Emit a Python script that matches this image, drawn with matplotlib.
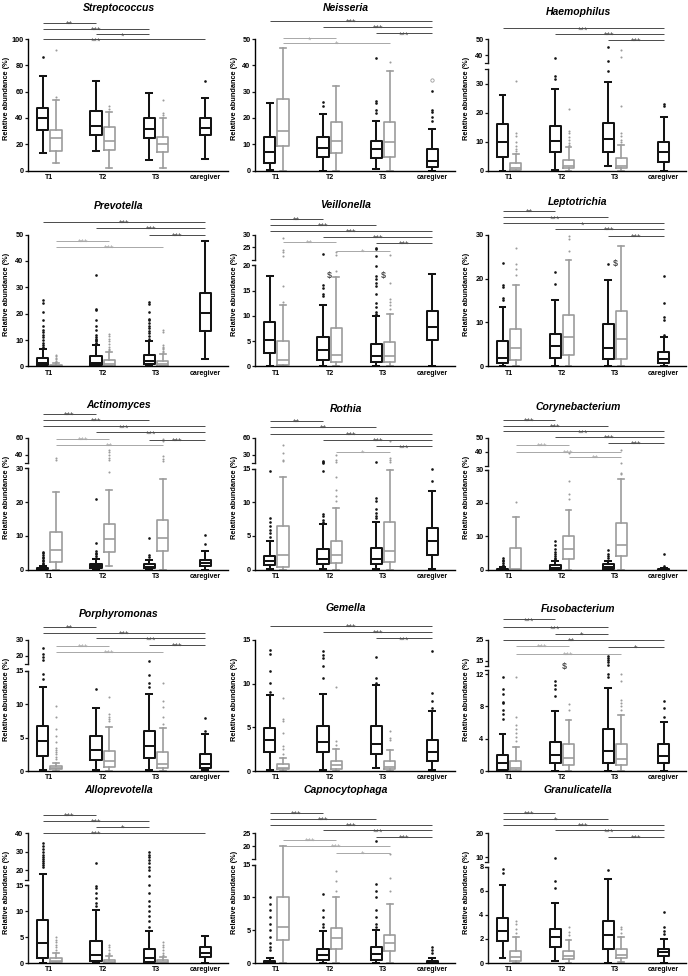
import numpy as np
import matplotlib
matplotlib.use("Agg")
import matplotlib.pyplot as plt
from matplotlib import transforms

plt.rcParams['font.family'] = ['Liberation Sans', 'DejaVu Sans']

# ---------------------------------------------------------------- data
GROUP_LABELS = ['T1', 'T2', 'T3', 'caregiver']
TITLES = ['Streptococcus', 'Neisseria', 'Haemophilus',
          'Prevotella', 'Veillonella', 'Leptotrichia',
          'Actinomyces', 'Rothia', 'Corynebacterium',
          'Porphyromonas', 'Gemella', 'Fusobacterium',
          'Alloprevotella', 'Capnocytophaga', 'Granulicatella']

# box order: T1 black, T1 grey, T2 black, T2 grey, T3 black, T3 grey, caregiver
# each row: whisker low, Q1, median, Q3, whisker high (%)
STREP_BOX = [[13.2, 30.9, 40.3, 47.3, 71.9], [5.6, 15.2, 24.6, 30.9, 53.7],
             [15.2, 27.1, 33.9, 45.6, 68.1], [1.8, 15.7, 22.8, 33.0, 44.8],
             [8.1, 24.6, 31.4, 39.7, 59.2], [1.8, 14.4, 20.3, 25.8, 39.7],
             [9.1, 27.1, 32.2, 39.7, 55.4]]
STREP_OUT = [[86.6], [91.6, 56.2], [], [49.1, 46.8], [], [53.7, 43.5, 42.3], [68.4]]
STREP_SIG = [(0, 2, '**'), (0, 4, '***'), (2, 4, '*'), (0, 6, '***')]

NEIS_BOX = [[0.2, 2.8, 7.2, 12.9, 25.6], [0, 9.5, 15.2, 27.1, 46.7],
            [0, 5.1, 8.5, 12.9, 21.5], [0, 6.6, 11.4, 18.5, 32.2],
            [0.5, 4.7, 8.2, 11.3, 18.9], [0, 5.3, 11.0, 18.5, 38.0],
            [0, 1.5, 3.8, 8.1, 15.6]]
NEIS_OUT = [[], [], [26.0, 24.6], [], [42.7, 26.6, 25.8, 23.0, 22.0], [41.1],
            [30.3, 23.0, 22.3, 20.3, 19.0]]
NEIS_OPEN = [34.4]
NEIS_SIG = [(1, 5, '*'), (1, 3, '*'), (4, 6, '***'), (2, 6, '***'), (0, 6, '***')]

HAEM_BOX = [[0, 4.8, 10.0, 16.1, 26.2], [0, 0.2, 0.8, 2.5, 5.8],
            [0.2, 6.3, 10.3, 15.5, 28.1], [0, 0.8, 1.7, 3.7, 8.0],
            [1.6, 6.5, 10.8, 16.4, 30.6], [0, 0.8, 1.7, 4.3, 8.9],
            [0, 3.1, 6.3, 9.7, 18.5]]
HAEM_OUT = [[], [31.0, 12.9, 11.8, 10.0, 8.3, 7.4, 6.6], [38.3, 32.5, 31.6],
            [21.2, 13.7, 12.9, 11.5, 10.6, 9.5, 8.7], [45.2, 36.5, 34.3],
            [43.1, 39.0, 22.4, 12.9, 11.8, 10.6, 9.7], [23.1, 22.4]]
HAEM_SIG = [(4, 6, '***'), (2, 6, '***'), (0, 6, '***')]

PREV_BOX = [[0, 0.4, 1.3, 3.2, 6.5], [0, 0.05, 0.2, 0.7, 1.5],
            [0, 0.6, 1.5, 3.8, 8.0], [0, 0.3, 1.0, 2.6, 5.5],
            [0, 0.8, 2.2, 4.5, 9.8], [0, 0.2, 0.8, 2.2, 4.8],
            [2.7, 13.3, 20.2, 27.8, 47.7]]
PREV_OUT = [[25.2, 24.0, 20.5, 17.5, 15.5, 14.0, 13.0, 12.0, 11.0, 10.0, 9.0, 8.0, 7.3],
            [4.5, 3.8, 3.2, 2.7, 2.2, 1.8],
            [34.5, 21.8, 21.5, 17.5, 15.5, 14.0, 12.0, 11.0, 10.5, 10.0, 9.5, 9.0, 8.5],
            [12.2, 11.5, 10.5, 9.5, 8.5, 7.5, 6.8, 6.2],
            [24.5, 23.8, 20.5, 18.0, 17.5, 16.5, 15.5, 14.5, 13.5, 12.5, 11.5, 10.5],
            [14.0, 13.0, 8.0, 7.5, 7.0, 6.5, 6.0, 5.5], []]
PREV_SIG = [(1, 5, '***'), (1, 3, '***'), (4, 6, '***'), (2, 6, '***'), (0, 6, '***')]

VEIL_BOX = [[0, 2.6, 5.3, 8.9, 18.0], [0, 0.3, 1.3, 5.0, 12.2],
            [0.1, 1.3, 3.3, 5.8, 12.2], [0, 0.8, 2.3, 7.6, 17.8],
            [0.1, 0.8, 2.1, 4.4, 9.9], [0, 0.8, 2.1, 4.8, 10.3],
            [0, 5.3, 7.8, 10.9, 18.3]]
VEIL_OUT = [[], [28.7, 23.7, 23.0, 21.4, 15.9, 12.7], [22.4, 16.2, 15.5, 14.4, 14.0],
            [23.0, 21.7, 19.0],
            [24.7, 24.1, 21.5, 19.8, 18.0, 17.4, 16.6, 16.0, 14.4, 12.6, 11.7, 10.7, 10.4],
            [22.0, 16.6, 13.4, 12.8, 12.2, 11.4], []]
VEIL_DOLLAR = [(2, 18.0), (4, 18.0)]
VEIL_SIG = [(3, 5, '*'), (1, 3, '**'), (4, 6, '***'), (2, 6, '***'), (0, 6, '***'),
            (0, 4, '***'), (0, 2, '**')]

LEPT_BOX = [[0.15, 0.7, 1.9, 5.9, 13.5], [0, 1.4, 4.2, 8.5, 18.6],
            [0, 1.9, 4.7, 7.4, 15.2], [0, 2.6, 6.8, 11.8, 24.3],
            [0, 1.8, 4.3, 9.7, 19.6], [0, 1.7, 6.2, 12.6, 27.4],
            [0, 0.9, 1.8, 3.4, 6.8]]
LEPT_OUT = [[23.5, 18.6, 18.1, 15.5, 15.0], [27.0, 23.2, 22.1, 20.9], [21.5, 18.7],
            [29.6, 28.9, 26.2], [23.2], [], [20.5, 14.5, 11.2, 10.6, 7.2]]
LEPT_DOLLAR = [(4, 23.4)]
LEPT_SIG = [(4, 6, '***'), (2, 6, '***'), (0, 6, '*'), (0, 4, '***'), (0, 2, '**')]

ACTI_BOX = [[0, 0.05, 0.2, 0.5, 1.0], [0, 2.2, 5.9, 11.2, 23.0],
            [0, 0.3, 1.0, 1.6, 3.0], [1.0, 5.3, 8.9, 13.6, 23.6],
            [0, 0.3, 0.8, 1.6, 2.7], [0, 5.5, 9.3, 14.8, 26.9],
            [0, 1.0, 2.0, 2.8, 5.4]]
ACTI_OUT = [[5.2, 4.8, 4.3, 3.8, 3.3, 2.8, 2.4, 2.0, 1.6, 1.3], [36.0, 34.0],
            [21.0, 7.8, 5.5, 5.0, 4.5, 4.0, 3.5], [46.0, 42.8, 39.2, 36.0, 33.0, 28.8],
            [9.4, 4.2, 3.8], [58.8, 56.0, 38.0, 34.8, 32.8], [10.1, 7.7]]
ACTI_SIG = [(1, 5, '**'), (4, 6, '***'), (1, 3, '***'), (2, 6, '***'), (0, 6, '***'),
            (0, 4, '***'), (0, 2, '***')]

ROTH_BOX = [[0.1, 0.65, 1.2, 2.0, 4.2], [0, 0.3, 2.2, 6.5, 13.7],
            [0.1, 0.8, 1.6, 3.1, 6.7], [0, 1.0, 2.2, 4.3, 9.1],
            [0.1, 0.75, 1.5, 3.2, 7.0], [0, 1.1, 2.7, 7.0, 14.8],
            [0.1, 2.2, 4.2, 6.2, 11.6]]
ROTH_OUT = [[14.6, 7.6, 7.0, 6.5, 5.9, 5.4, 4.9], [48.0, 34.0, 21.0, 18.0],
            [19.2, 16.5, 16.0, 14.6, 8.3, 7.9, 7.4, 7.0],
            [28.8, 19.8, 16.2, 13.7, 11.8, 10.9, 10.1],
            [16.2, 10.6, 10.2, 9.0, 8.4, 8.0, 7.6], [54.0, 24.0, 19.8, 16.8], [15.0, 13.1]]
ROTH_SIG = [(3, 5, '*'), (4, 6, '***'), (2, 6, '***'), (0, 6, '***'), (0, 4, '**'), (0, 2, '**')]

CORY_BOX = [[0, 0, 0.1, 0.3, 0.8], [0, 0, 0.1, 6.5, 15.7],
            [0, 0.2, 0.6, 1.3, 2.5], [0, 3.1, 6.3, 10.0, 18.0],
            [0, 0.3, 0.8, 1.6, 2.6], [0, 4.1, 7.4, 13.9, 27.1],
            [0, 0, 0.05, 0.2, 0.5]]
CORY_OUT = [[3.5, 3.0, 2.5, 2.0, 1.5, 1.2], [20.4], [8.7, 7.5, 6.3, 5.3, 4.6, 4.0, 3.5, 3.1],
            [39.0, 26.6, 22.6, 21.2], [5.8, 4.8, 4.1, 3.6], [41.7, 32.0, 29.1, 28.6], [4.8, 1.0]]
CORY_SIG = [(3, 5, '**'), (1, 5, '***'), (1, 3, '***'), (4, 6, '***'), (2, 6, '***'),
            (0, 6, '***'), (0, 4, '***'), (0, 2, '***')]

PORP_BOX = [[0.1, 2.2, 4.5, 6.7, 12.5], [0, 0.25, 0.4, 0.75, 1.15],
            [0.1, 1.6, 3.1, 5.2, 9.4], [0, 0.65, 1.5, 3.0, 6.6],
            [0.15, 2.0, 3.7, 6.0, 11.5], [0, 0.4, 1.05, 2.9, 6.5],
            [0.15, 0.4, 1.05, 2.5, 5.6]]
PORP_OUT = [[24.8, 21.2, 19.6, 17.5, 14.5, 13.7],
            [9.7, 8.1, 6.3, 5.3, 4.4, 3.5, 3.1, 2.9, 2.5, 2.1, 1.8], [12.3],
            [11.1, 8.5, 8.1, 7.8, 7.5], [16.9, 14.3, 13.2, 12.6], [13.1, 10.4, 9.5, 8.1, 7.0],
            [7.9, 6.0]]
PORP_SIG = [(1, 5, '***'), (1, 3, '***'), (4, 6, '***'), (2, 6, '***'), (0, 6, '***'), (0, 2, '**')]

GEME_BOX = [[0.08, 2.2, 3.6, 4.9, 8.75], [0, 0.19, 0.38, 0.75, 1.5],
            [0.08, 2.2, 3.3, 5.1, 8.8], [0, 0.27, 0.65, 1.2, 2.5],
            [0.35, 1.9, 3.1, 5.1, 9.8], [0, 0.27, 0.5, 1.2, 2.4],
            [0.08, 1.1, 2.15, 3.5, 6.9]]
GEME_OUT = [[13.9, 13.4, 11.4, 10.1, 9.1], [8.4, 6.0, 5.7, 4.4, 2.9, 2.5, 2.0],
            [13.7, 13.3, 12.9, 12.0, 10.6], [9.6, 3.4, 3.0], [13.1, 10.6, 10.1],
            [4.6, 3.8, 3.6], [13.7, 8.9, 8.0, 7.2]]
GEME_SIG = [(4, 6, '***'), (2, 6, '***'), (0, 6, '***')]

FUSO_BOX = [[0, 0.1, 0.95, 2.0, 4.6], [0, 0.08, 0.37, 1.3, 3.0],
            [0, 0.95, 2.0, 3.6, 7.4], [0, 0.8, 1.65, 3.4, 6.3],
            [0, 1.0, 2.5, 5.2, 10.3], [0, 0.75, 1.45, 3.3, 6.9],
            [0, 0.95, 1.9, 3.3, 6.1]]
FUSO_OUT = [[11.6, 10.2, 9.6, 8.6, 8.4, 7.6, 7.1, 6.5], [11.7, 6.7, 5.7, 5.2, 4.7, 4.2, 3.7],
            [11.2, 10.6, 10.2, 9.3], [8.3, 7.5], [17.5, 16.6, 15.5, 14.4, 13.1, 12.0, 11.7],
            [12.0, 11.1, 8.8, 8.4, 8.0, 7.6], [8.7, 7.8, 6.7]]
FUSO_DOLLAR = [(2, 12.6)]
FUSO_SIG = [(1, 5, '***'), (4, 6, '*'), (1, 3, '***'), (0, 6, '**'), (2, 4, '*'),
            (0, 4, '***'), (0, 2, '***')]

ALLO_BOX = [[0, 1.0, 3.8, 8.3, 18.0], [0, 0.1, 0.4, 0.9, 2.0],
            [0, 0.3, 1.5, 4.2, 10.2], [0, 0.05, 0.2, 0.6, 1.3],
            [0, 0.2, 1.0, 2.6, 6.2], [0, 0.05, 0.2, 0.5, 1.2],
            [0, 1.2, 2.0, 3.0, 5.2]]
ALLO_OUT = [[34.5, 33.0, 31.5, 30.0, 28.5, 27.0, 26.0, 25.0, 24.0, 23.0, 22.0],
            [5.0, 4.5, 4.0, 3.5, 3.0, 2.5],
            [23.8, 14.8, 14.5, 13.5, 12.5, 11.5, 11.0],
            [3.5, 3.0, 2.5, 2.0, 1.7],
            [30.0, 28.0, 27.0, 25.5, 24.0, 22.0, 20.0, 17.0, 15.0, 13.5, 12.0, 11.0, 10.0, 9.0, 8.0, 7.0],
            [4.0, 3.5, 3.0, 2.5, 2.0, 1.6], []]
ALLO_SIG = [(0, 6, '***'), (2, 4, '*'), (0, 4, '***'), (0, 2, '***')]

CAPN_BOX = [[0, 0, 0.1, 0.3, 0.8], [0, 3.5, 5.5, 10.0, 20.0],
            [0, 0.5, 1.2, 2.2, 4.8], [0, 2.2, 3.8, 5.3, 10.0],
            [0, 0.5, 1.3, 2.4, 5.0], [0, 1.8, 3.0, 4.2, 9.0],
            [0, 0, 0.1, 0.3, 0.8]]
CAPN_OUT = [[10.0, 9.0, 8.0, 7.0, 6.0, 5.0, 4.0, 3.0, 2.5, 2.0], [],
            [10.5, 8.0, 7.0, 6.0, 5.5], [14.0, 12.5, 11.0],
            [22.0, 12.0, 11.0, 10.0, 8.0, 7.0, 6.0, 5.5], [17.0, 13.0, 11.0],
            [2.5, 2.0, 1.5]]
CAPN_SIG = [(3, 5, '*'), (1, 5, '***'), (1, 3, '***'), (4, 6, '***'), (2, 6, '***'),
            (0, 6, '***'), (0, 4, '***'), (0, 2, '***')]

GRAN_BOX = [[0.4, 1.8, 2.7, 3.7, 6.5], [0, 0.2, 0.5, 1.0, 2.2],
            [0.2, 1.3, 2.2, 2.8, 5.0], [0, 0.3, 0.6, 1.0, 1.9],
            [0, 1.2, 2.3, 3.5, 7.0], [0.1, 0.4, 0.7, 1.2, 2.2],
            [0, 0.6, 0.9, 1.2, 2.0]]
GRAN_OUT = [[7.8, 7.5], [3.5, 3.2, 2.8, 2.5], [9.5, 6.8, 6.2], [3.0, 2.6, 2.3], [7.7],
            [3.0, 2.8, 2.5], [4.2, 3.0, 2.7, 2.4]]
GRAN_SIG = [(4, 6, '***'), (2, 6, '***'), (0, 6, '***'), (0, 4, '*'), (0, 2, '***')]

BOXES = [STREP_BOX, NEIS_BOX, HAEM_BOX, PREV_BOX, VEIL_BOX, LEPT_BOX, ACTI_BOX, ROTH_BOX,
         CORY_BOX, PORP_BOX, GEME_BOX, FUSO_BOX, ALLO_BOX, CAPN_BOX, GRAN_BOX]
OUTS = [STREP_OUT, NEIS_OUT, HAEM_OUT, PREV_OUT, VEIL_OUT, LEPT_OUT, ACTI_OUT, ROTH_OUT,
        CORY_OUT, PORP_OUT, GEME_OUT, FUSO_OUT, ALLO_OUT, CAPN_OUT, GRAN_OUT]
SIGS = [STREP_SIG, NEIS_SIG, HAEM_SIG, PREV_SIG, VEIL_SIG, LEPT_SIG, ACTI_SIG, ROTH_SIG,
        CORY_SIG, PORP_SIG, GEME_SIG, FUSO_SIG, ALLO_SIG, CAPN_SIG, GRAN_SIG]
DOLLARS = {4: VEIL_DOLLAR, 5: LEPT_DOLLAR, 11: FUSO_DOLLAR}

# ---------------------------------------------------------------- layout
# y-axis: (top, ticks, break) with break = (value, gap, compression) or None
YAXES = [
    (100, [0, 20, 40, 60, 80, 100], None),
    (50, [0, 10, 20, 30, 40, 50], None),
    (50, [0, 10, 20, 30, 40, 50], (35, 2.08, 0.554)),
    (50, [0, 10, 20, 30, 40, 50], None),
    (30, [0, 5, 10, 15, 20, 25, 30], (20, 1.13, 0.5)),
    (30, [0, 10, 20, 30], None),
    (60, [0, 10, 20, 30, 40, 60], (30, 1.58, 0.247)),
    (60, [0, 5, 10, 15, 30, 60], (15, 0.8, 0.0829)),
    (50, [0, 10, 20, 30, 40, 50], (30, 1.19, 0.417)),
    (30, [0, 5, 10, 15, 20, 30], (15, 1.0, 0.239)),
    (15, [0, 5, 10, 15], None),
    (25, [0, 4, 8, 12, 15, 25], (12.5, 0.486, 0.26)),
    (40, [0, 5, 10, 15, 20, 30, 40], (15, 1.0, 0.36)),
    (25, [0, 5, 10, 15, 20, 25], (15, 0.8, 0.4)),
    (20, [0, 2, 4, 6, 8, 10, 20], (8, 0.4, 0.2)),
]
SIG_Y = [
    [1.124, 1.078, 1.035, 0.997],
    [0.972, 1.005, 1.043, 1.094, 1.139],
    [0.992, 1.038, 1.081],
    [0.906, 0.954, 0.995, 1.051, 1.096],
    [0.878, 0.942, 0.934, 0.980, 1.030, 1.073, 1.119],
    [0.990, 1.041, 1.084, 1.129, 1.178],
    [0.949, 0.987, 0.995, 1.043, 1.089, 1.139, 1.185],
    [0.894, 0.937, 0.987, 1.033, 1.084, 1.129],
    [0.857, 0.894, 0.950, 0.962, 1.008, 1.050, 1.095, 1.138],
    [0.911, 0.954, 0.962, 1.013, 1.056, 1.102],
    [1.013, 1.063, 1.106],
    [0.893, 0.949, 0.954, 1.0, 1.046, 1.097, 1.158],
    [1.0, 1.046, 1.092, 1.138],
    [0.85, 0.90, 0.95, 0.97, 1.02, 1.065, 1.11, 1.155],
    [0.97, 1.02, 1.065, 1.11, 1.155],
]
# label x overrides for a few brackets: (panel, bracket index) -> x
SIG_TEXT_X = {(0, 3): 4.0, (12, 0): 4.0, (11, 3): 5.2}
DOLLAR_DX = {4: 0.5, 5: 0.55, 11: 0.7}

BOX_POS = [0, 1, 4, 5, 8, 9, 12.2]
LABEL_POS = [0.5, 4.5, 8.5, 12.2]
XLIM = (-1.1, 13.9)

COL_L = [28, 255, 488]
COL_R = [228, 455, 686]
ROW_T = [39, 234.5, 438, 640, 833]
ROW_B = [170.5, 366.5, 569.5, 771, 963]
TITLE_Y = [[8, 8, 12], [206, 205, 202], [405, 409, 407], [614, 608, 609], [790, 790, 790]]

W, H = 688, 976
BLACK = '#141414'
GREY = '#9c9c9c'
SIG_DARK = '#4a4a4a'
SIG_LIGHT = '#a8a8a8'

fig = plt.figure(figsize=(W / 100, H / 100), dpi=100)


def make_scale(b, gap, k):
    def fwd(y):
        y = np.asarray(y, dtype=float)
        return np.where(y <= b, y, b + gap + (y - b) * k)

    def inv(z):
        z = np.asarray(z, dtype=float)
        return np.where(z <= b, z, np.where(z < b + gap, b, b + (z - b - gap) / k))
    return fwd, inv


def draw_boxes(ax, stats, outs, idx, color, lw, ms):
    st = []
    for i in idx:
        lo, q1, med, q3, hi = stats[i]
        st.append(dict(whislo=lo, q1=q1, med=med, q3=q3, whishi=hi, fliers=outs[i]))
    ax.bxp(st, positions=[BOX_POS[i] for i in idx], widths=0.85, capwidths=0.45,
           manage_ticks=False,
           boxprops=dict(color=color, lw=lw), whiskerprops=dict(color=color, lw=lw),
           capprops=dict(color=color, lw=lw), medianprops=dict(color=color, lw=lw),
           flierprops=dict(marker='o', markersize=ms, markerfacecolor=color,
                           markeredgecolor='none', linestyle='none'))


for p in range(15):
    r, c = divmod(p, 3)
    x0, x1 = COL_L[c], COL_R[c]
    y0, y1 = ROW_T[r], ROW_B[r]
    ax = fig.add_axes([x0 / W, 1 - y1 / H, (x1 - x0) / W, (y1 - y0) / H])
    top, ticks, brk = YAXES[p]

    if brk is not None:
        fwd, inv = make_scale(*brk)
        ax.set_yscale('function', functions=(fwd, inv))
    ax.set_ylim(0, top)
    ax.set_xlim(*XLIM)
    ax.set_yticks(ticks)
    ax.set_yticklabels([str(t) for t in ticks], fontsize=5.3, fontweight='bold')
    ax.minorticks_off()
    ax.set_xticks(LABEL_POS)
    ax.set_xticklabels(GROUP_LABELS, fontsize=5.0, fontweight='bold')
    ax.tick_params(axis='x', length=0, pad=2.5)
    ax.tick_params(axis='y', length=2.2, width=0.9, pad=1.0, color=BLACK)
    for s in ['top', 'right']:
        ax.spines[s].set_visible(False)
    ax.spines['bottom'].set_linewidth(1.0)
    ax.spines['left'].set_linewidth(1.0)
    ax.patch.set_alpha(0)

    if brk is not None:
        b = brk[0]
        ax.spines['left'].set_visible(False)
        tr = ax.get_yaxis_transform()
        ax.plot([0, 0], [0, b], transform=tr, color=BLACK, lw=1.0, clip_on=False,
                solid_capstyle='projecting')
        bu = b + 1e-6
        ax.plot([0, 0], [bu, top], transform=tr, color=BLACK, lw=1.0, clip_on=False,
                solid_capstyle='projecting')
        ax.plot([-0.016, 0], [b, b], transform=tr, color=BLACK, lw=0.9, clip_on=False)
        ax.plot([-0.016, 0], [bu, bu], transform=tr, color=BLACK, lw=0.9, clip_on=False)

    draw_boxes(ax, BOXES[p], OUTS[p], [1, 3, 5], GREY, 1.2, 1.5)
    draw_boxes(ax, BOXES[p], OUTS[p], [0, 2, 4, 6], BLACK, 1.45, 1.9)

    if p == 1:
        ax.plot([BOX_POS[6]] * len(NEIS_OPEN), NEIS_OPEN, linestyle='none', marker='o',
                markersize=2.4, markerfacecolor='none', markeredgecolor=GREY, markeredgewidth=0.6)

    if p in DOLLARS:
        for (i, v) in DOLLARS[p]:
            ax.text(BOX_POS[i] + DOLLAR_DX[p], v, '$', ha='center', va='center',
                    fontsize=6.5, color='#4a4a4a', fontweight='bold')

    xtr = ax.get_xaxis_transform()
    star_tr = transforms.offset_copy(xtr, fig=fig, x=0, y=-4.0, units='dots')
    for n, ((i, j, lab), yf) in enumerate(zip(SIGS[p], SIG_Y[p])):
        col = SIG_LIGHT if (i % 2 == 1 and j % 2 == 1) else SIG_DARK
        ax.plot([BOX_POS[i], BOX_POS[j]], [yf, yf], transform=xtr, color=col, lw=0.7,
                clip_on=False, solid_capstyle='butt')
        tx = SIG_TEXT_X.get((p, n), (BOX_POS[i] + BOX_POS[j]) / 2)
        ax.text(tx, yf, lab, transform=star_tr, ha='center',
                va='baseline', fontsize=6.6, color=col)

    fig.text(((x0 + x1) / 2 - 9) / W, 1 - TITLE_Y[r][c] / H, TITLES[p], ha='center',
             va='center', fontsize=7.5, fontweight='bold', fontstyle='italic')
    fig.text((x0 - 21) / W, 1 - ((y0 + y1) / 2 - 6) / H, 'Relative abundance (%)',
             rotation=90, ha='center', va='center', fontsize=5.3, fontweight='bold')

fig.savefig('out.png', dpi=100)
